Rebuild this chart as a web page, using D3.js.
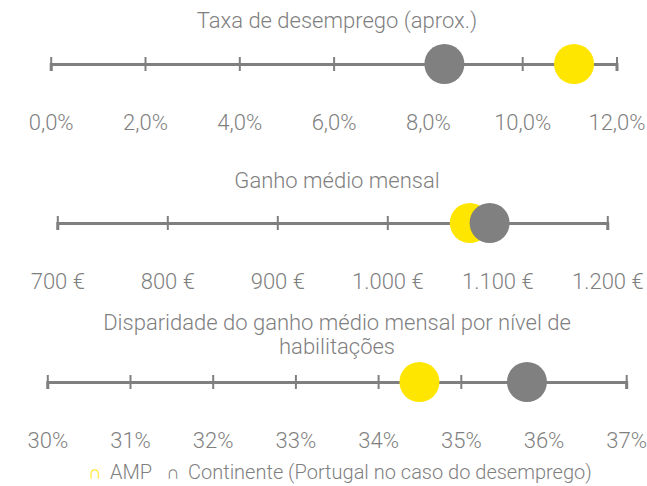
<!DOCTYPE html>
<html>
<head>
<meta charset="utf-8">
<script src="https://cdn.jsdelivr.net/npm/d3@7"></script>
<style>
  body { margin: 0; background: #fff; }
  text { font-family: Roboto, "Open Sans", sans-serif; font-weight: 300; fill: #7f7f7f; }
</style>
</head>
<body>
<div id="chart"></div>
<script>
// data
var titles = [
  ["Taxa de desemprego (aprox.)"],
  ["Ganho médio mensal"],
  ["Disparidade do ganho médio mensal por nível de", "habilitações"]
];
var ampValues = [11.1, 1075, 34.5];
var continenteValues = [8.35, 1093, 35.8];
var tickValues = [
  [0, 2, 4, 6, 8, 10, 12],
  [700, 800, 900, 1000, 1100, 1200],
  [30, 31, 32, 33, 34, 35, 36, 37]
];
var tickLabels = [
  ["0,0%", "2,0%", "4,0%", "6,0%", "8,0%", "10,0%", "12,0%"],
  ["700 €", "800 €", "900 €", "1.000 €", "1.100 €", "1.200 €"],
  ["30%", "31%", "32%", "33%", "34%", "35%", "36%", "37%"]
];
var seriesNames = ["AMP", "Continente (Portugal no caso do desemprego)"];
var seriesColors = ["#ffe600", "#808080"];

var svgWidth = 647, svgHeight = 486;

var svg = d3.select("#chart")
  .append("svg")
  .attr("width", svgWidth)
  .attr("height", svgHeight);

// layout of each panel: axis line y, pixel range, title line positions
var panels = [
  { axisY: 64,  range: [50.7, 616.5], titleY: [28] },
  { axisY: 223, range: [57.3, 607.3], titleY: [188] },
  { axisY: 382, range: [47.3, 626.2], titleY: [330, 354] }
];

panels.forEach(function(p, i) {
  var x = d3.scaleLinear()
    .domain(d3.extent(tickValues[i]))
    .range(p.range);

  var g = svg.append("g");

  // title
  titles[i].forEach(function(t, k) {
    g.append("text")
      .attr("x", 337)
      .attr("y", p.titleY[k])
      .attr("text-anchor", "middle")
      .attr("font-size", "22px")
      .text(t);
  });

  var axis = d3.axisBottom(x)
    .tickValues(tickValues[i])
    .tickFormat(function(d, j) { return tickLabels[i][j]; })
    .tickSizeOuter(0)
    .tickSize(7);

  var axisG = g.append("g")
    .attr("transform", "translate(0," + p.axisY + ")")
    .call(axis);
  axisG.attr("font-family", null).attr("font-size", null);

  axisG.select(".domain")
    .attr("stroke", "#7f7f7f")
    .attr("stroke-width", 3);
  axisG.selectAll(".tick line")
    .attr("y1", -7)
    .attr("y2", 7)
    .attr("stroke", "#7f7f7f")
    .attr("stroke-width", 2);
  axisG.selectAll(".tick text")
    .attr("y", 66)
    .attr("dy", 0)
    .attr("font-size", "22px");

  // points: AMP first, continente on top
  var pts = [
    { v: ampValues[i], c: seriesColors[0] },
    { v: continenteValues[i], c: seriesColors[1] }
  ];
  g.selectAll("circle.pt")
    .data(pts)
    .enter()
    .append("circle")
    .attr("class", "pt")
    .attr("cx", function(d) { return x(d.v); })
    .attr("cy", p.axisY)
    .attr("r", 20)
    .attr("fill", function(d) { return d.c; });
});

// legend
var legend = svg.append("g").attr("transform", "translate(0,479)");
var legX = [88, 166];
seriesNames.forEach(function(name, i) {
  legend.append("text")
    .attr("x", legX[i])
    .attr("y", 0)
    .attr("font-size", "19px")
    .style("fill", seriesColors[i])
    .text("∩");
  legend.append("text")
    .attr("x", legX[i] + 22)
    .attr("y", 0)
    .attr("font-size", "20px")
    .text(name);
});
</script>
</body>
</html>
